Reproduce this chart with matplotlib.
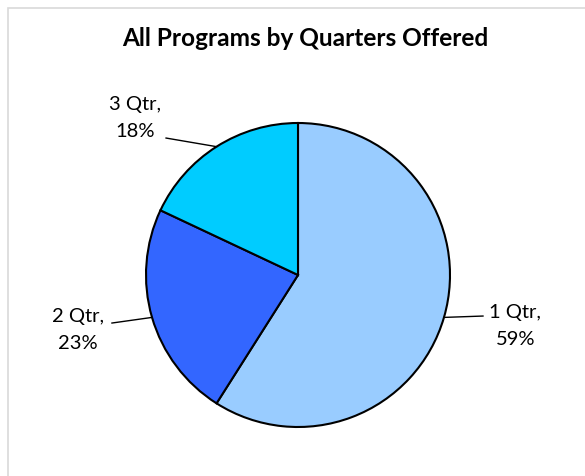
import matplotlib.pyplot as plt
import numpy as np

plt.rcParams['font.family'] = ['Lato', 'DejaVu Sans']

# data
categories = ["1 Qtr", "2 Qtr", "3 Qtr"]
shares = [59, 23, 18]
colors = ["#99CCFF", "#3366FF", "#00CCFF"]

# label placement (axes data units, pie radius = 1): line end, text centre
label_pos = {
    "1 Qtr": ((1.217, -0.27), (1.43, -0.335)),
    "2 Qtr": ((-1.224, -0.316), (-1.447, -0.362)),
    "3 Qtr": ((-0.868, 0.901), (-1.072, 1.033)),
}

W, H = 585, 476
fig = plt.figure(figsize=(W / 100, H / 100), dpi=100)

# light grey chart border
border = plt.Rectangle((8 / W, -0.01), 1.0, 1.0 - 8 / H + 0.01, transform=fig.transFigure,
                       fill=False, edgecolor="#D9D9D9", linewidth=1.2)
fig.add_artist(border)

cx, cy, r = 298, 275, 152
ax = fig.add_axes([(cx - r) / W, (H - cy - r) / H, 2 * r / W, 2 * r / H])
wedges, _ = ax.pie(shares, colors=colors, startangle=90, counterclock=False,
                   wedgeprops=dict(edgecolor="black", linewidth=1.5))
ax.set_xlim(-1, 1)
ax.set_ylim(-1, 1)
ax.set_aspect("equal")

for w, name, val in zip(wedges, categories, shares):
    mid = np.deg2rad((w.theta1 + w.theta2) / 2)
    edge = (np.cos(mid), np.sin(mid))
    line_end, text_c = label_pos[name]
    ax.plot([edge[0], line_end[0]], [edge[1], line_end[1]], color="black",
            linewidth=1.0, clip_on=False)
    ax.text(text_c[0], text_c[1], "%s,\n%d%%" % (name, val), ha="center", va="center",
            multialignment="center", fontsize=14.5, linespacing=1.75, clip_on=False)

fig.text(0.522, 1 - 39 / H, "All Programs by Quarters Offered", ha="center", va="center",
         fontsize=17.6, fontweight="bold")

fig.savefig("out.png", dpi=100)
